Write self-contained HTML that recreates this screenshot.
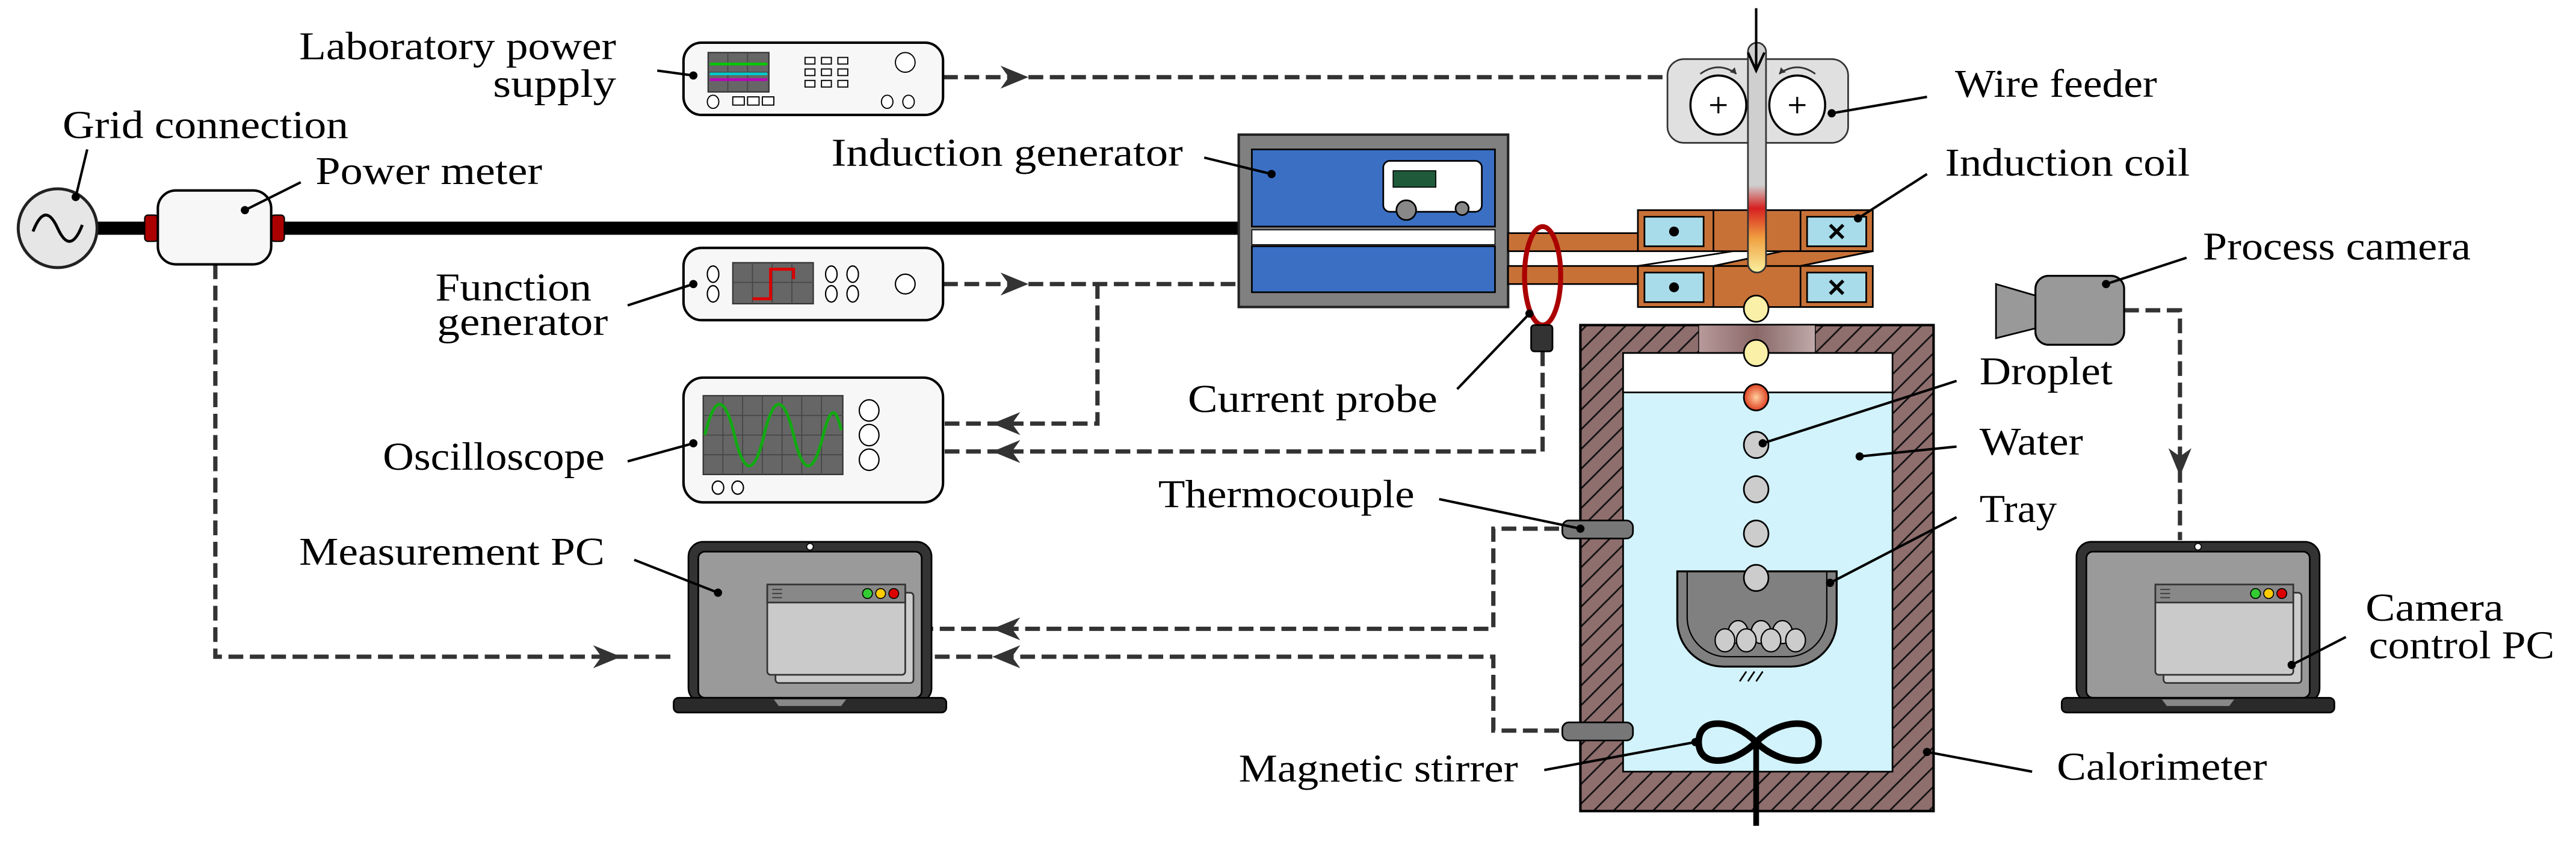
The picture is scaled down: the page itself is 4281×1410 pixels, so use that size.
<!DOCTYPE html>
<html><head><meta charset="utf-8"><style>
html,body{margin:0;padding:0;background:#fff;}
svg{display:block;}
svg text{font-family:"Liberation Serif","DejaVu Serif",serif;font-size:24px;fill:#000;}
</style></head><body>
<svg width="4281" height="1410" viewBox="0 0 1568 516.5" xmlns="http://www.w3.org/2000/svg">
<defs>
<pattern id="hatch" patternUnits="userSpaceOnUse" width="12" height="12">
<rect width="12" height="12" fill="#8f6e6e"/>
<path d="M-3,15 L15,-3 M-3,3 L3,-3 M9,15 L15,9" stroke="#111" stroke-width="1"/>
</pattern>
<linearGradient id="wire" x1="0" y1="0" x2="0" y2="1">
<stop offset="0" stop-color="#cfcfcf"/><stop offset="0.62" stop-color="#cfcfcf"/>
<stop offset="0.72" stop-color="#d62020"/><stop offset="0.85" stop-color="#f0a040"/><stop offset="1" stop-color="#fbf0a0"/>
</linearGradient>
<linearGradient id="opening" x1="0" y1="0" x2="1" y2="0">
<stop offset="0" stop-color="#b89a9a"/><stop offset="0.5" stop-color="#8a6868"/><stop offset="1" stop-color="#c0aaaa"/>
</linearGradient>
<radialGradient id="hot" cx="0.5" cy="0.5" r="0.5"><stop offset="0" stop-color="#ffd0a0"/><stop offset="1" stop-color="#e04020"/></radialGradient>
<path id="ah" d="M0,0 L-17,-7 L-12,0 L-17,7 Z" fill="#333"/>
<g id="laptop">
<rect x="419" y="330" width="148" height="98" rx="9" fill="#333" stroke="#000" stroke-width="1"/>
<rect x="425" y="336" width="136" height="89" rx="4" fill="#9a9a9a" stroke="#000" stroke-width="1"/>
<circle cx="493" cy="333" r="2" fill="#fff" stroke="#000" stroke-width="0.6"/>
<rect x="410" y="425" width="166" height="9" rx="3" fill="#2a2a2a" stroke="#000" stroke-width="1"/>
<path d="M471,426 L515,426 L512,430 L474,430 Z" fill="#888"/>
<rect x="472" y="361" width="84" height="55" rx="2" fill="#ccc" stroke="#333" stroke-width="1"/>
<rect x="467" y="356" width="84" height="55" rx="2" fill="#cacaca" stroke="#333" stroke-width="1"/>
<rect x="467" y="356" width="84" height="11" fill="#888" stroke="#333" stroke-width="1"/>
<path d="M470,359h6M470,361.5h6M470,364h6" stroke="#444" stroke-width="0.8"/>
<circle cx="528" cy="361.5" r="3" fill="#3c3" stroke="#000" stroke-width="0.6"/>
<circle cx="536" cy="361.5" r="3" fill="#fc0" stroke="#000" stroke-width="0.6"/>
<circle cx="544" cy="361.5" r="3" fill="#d00" stroke="#000" stroke-width="0.6"/>
</g>
</defs>

<g fill="none" stroke="#333" stroke-width="2.6" stroke-dasharray="9 4">
<path d="M131,161 V400 H412"/>
<path d="M574,47 H1016"/>
<path d="M574,173 H755"/>
<path d="M668,173 V258 H574"/>
<path d="M939,214 V275 H574"/>
<path d="M962,322 H909 V383 H567"/>
<path d="M962,445 H909 V400 H567"/>
<path d="M1293,189 H1327 V329"/>
</g>
<use href="#ah" transform="translate(378,400)"/>
<use href="#ah" transform="translate(626,47)"/>
<use href="#ah" transform="translate(626,173)"/>
<use href="#ah" transform="translate(604,258) rotate(180)"/>
<use href="#ah" transform="translate(604,275) rotate(180)"/>
<use href="#ah" transform="translate(604,383) rotate(180)"/>
<use href="#ah" transform="translate(604,400) rotate(180)"/>
<use href="#ah" transform="translate(1327,290) rotate(90)"/>

<rect x="58" y="135" width="698" height="8" fill="#000"/>
<ellipse cx="35" cy="139" rx="24" ry="24" fill="#e6e6e6" stroke="#222" stroke-width="1.8"/>
<path d="M20,141 C25,128 30,128 35,139 C40,150 45,150 50,137" fill="none" stroke="#000" stroke-width="1.8"/>
<rect x="88" y="131" width="8" height="16" rx="2" fill="#a00" stroke="#000" stroke-width="0.8"/>
<rect x="165" y="131" width="8" height="16" rx="2" fill="#a00" stroke="#000" stroke-width="0.8"/>
<rect x="96" y="116" width="69" height="45" rx="11" fill="#f7f7f7" stroke="#000" stroke-width="1.5"/>

<rect x="416" y="26" width="158" height="44" rx="11" fill="#f7f7f7" stroke="#000" stroke-width="1.5"/>
<rect x="431" y="32" width="37" height="24" fill="#666" stroke="#333" stroke-width="0.8"/>
<path d="M443,32v24M455,32v24M431,44h37" stroke="#444" stroke-width="0.6"/>
<path d="M432,39h35" stroke="#0c0" stroke-width="1.6"/>
<path d="M432,45h35" stroke="#0cc" stroke-width="1.6"/>
<path d="M432,48.5h35" stroke="#b0b" stroke-width="1.6"/>
<g fill="#fff" stroke="#000" stroke-width="0.7">
<rect x="490" y="35" width="6" height="4"/><rect x="500" y="35" width="6" height="4"/><rect x="510" y="35" width="6" height="4"/>
<rect x="490" y="42" width="6" height="4"/><rect x="500" y="42" width="6" height="4"/><rect x="510" y="42" width="6" height="4"/>
<rect x="490" y="49" width="6" height="4"/><rect x="500" y="49" width="6" height="4"/><rect x="510" y="49" width="6" height="4"/>
<rect x="446" y="59" width="7" height="5"/><rect x="455" y="59" width="7" height="5"/><rect x="464" y="59" width="7" height="5"/>
<ellipse cx="551" cy="38" rx="6" ry="6"/>
<ellipse cx="434" cy="62" rx="3.5" ry="4"/><ellipse cx="540" cy="62" rx="3.5" ry="4"/><ellipse cx="553" cy="62" rx="3.5" ry="4"/>
</g>

<rect x="416" y="151" width="158" height="44" rx="11" fill="#f7f7f7" stroke="#000" stroke-width="1.5"/>
<rect x="446" y="160" width="49" height="25" fill="#666" stroke="#333" stroke-width="0.8"/>
<path d="M458,160v25M470,160v25M482,160v25M446,172h49" stroke="#444" stroke-width="0.6"/>
<path d="M458,182 H469 V164 H483 V170" fill="none" stroke="#d00" stroke-width="1.8"/>
<g fill="#fff" stroke="#000" stroke-width="0.8">
<ellipse cx="434" cy="167" rx="3.5" ry="5"/><ellipse cx="434" cy="179" rx="3.5" ry="5"/>
<ellipse cx="506" cy="167" rx="3.5" ry="5"/><ellipse cx="519" cy="167" rx="3.5" ry="5"/>
<ellipse cx="506" cy="179" rx="3.5" ry="5"/><ellipse cx="519" cy="179" rx="3.5" ry="5"/>
<ellipse cx="551" cy="173" rx="6" ry="6"/>
</g>

<rect x="416" y="230" width="158" height="76" rx="12" fill="#f7f7f7" stroke="#000" stroke-width="1.5"/>
<rect x="428" y="241" width="85" height="48" fill="#666" stroke="#333" stroke-width="0.8"/>
<path d="M440,241v48M452,241v48M464,241v48M476,241v48M488,241v48M500,241v48M428,253h85M428,265h85M428,277h85" stroke="#444" stroke-width="0.6"/>
<path d="M429,265 C435,240 441,240 447,265 C453,290 459,290 465,265 C471,240 477,240 483,265 C489,290 495,290 501,265 C505,250 508,245 512,262" fill="none" stroke="#1a1" stroke-width="1.8"/>
<g fill="#fff" stroke="#000" stroke-width="0.8">
<ellipse cx="529" cy="250" rx="6" ry="6.5"/><ellipse cx="529" cy="265" rx="6" ry="6.5"/><ellipse cx="529" cy="280" rx="6" ry="6.5"/>
<ellipse cx="437" cy="297" rx="3.5" ry="4"/><ellipse cx="449" cy="297" rx="3.5" ry="4"/>
</g>

<use href="#laptop"/>
<use href="#laptop" transform="translate(845,0)"/>

<rect x="754" y="82" width="164" height="105" fill="#808080" stroke="#222" stroke-width="1.5"/>
<rect x="762" y="91" width="148" height="47" fill="#3a6fc4" stroke="#000" stroke-width="1"/>
<rect x="762" y="140" width="148" height="9" fill="#fff" stroke="#000" stroke-width="0.6"/>
<rect x="762" y="150" width="148" height="28" fill="#3a6fc4" stroke="#000" stroke-width="1"/>
<rect x="842" y="98" width="60" height="31" rx="4" fill="#fff" stroke="#000" stroke-width="1"/>
<rect x="848" y="104" width="26" height="10" fill="#1f5a3a" stroke="#000" stroke-width="0.6"/>
<circle cx="856" cy="128" r="6" fill="#888" stroke="#000" stroke-width="1"/>
<circle cx="890" cy="127" r="4" fill="#888" stroke="#000" stroke-width="1"/>

<rect x="918" y="142" width="80" height="11" fill="#c87137" stroke="#000" stroke-width="1"/>
<rect x="918" y="162" width="80" height="11" fill="#c87137" stroke="#000" stroke-width="1"/>
<ellipse cx="939" cy="168" rx="11" ry="30" fill="none" stroke="#a00" stroke-width="3"/>
<rect x="932" y="198" width="13" height="16" rx="2" fill="#333" stroke="#000" stroke-width="1"/>

<g stroke="#000" stroke-width="1">
<rect x="997" y="128" width="143" height="25" fill="#c87137"/>
<rect x="997" y="162" width="143" height="25" fill="#c87137"/>
<path d="M1043,162 L1085,153 L1096,153 L1140,153 L1140,153 L1096,162 Z" fill="#c87137"/>
<path d="M997,162 L1055,153 M1096,162 L1140,153" fill="none"/>
<path d="M1043,128v25M1096,128v25M1043,162v25M1096,162v25"/>
<rect x="1001" y="132" width="36" height="18" fill="#a9dcea"/>
<rect x="1100" y="132" width="36" height="18" fill="#a9dcea"/>
<rect x="1001" y="166" width="36" height="18" fill="#a9dcea"/>
<rect x="1100" y="166" width="36" height="18" fill="#a9dcea"/>
</g>
<circle cx="1019" cy="141" r="3" fill="#000"/><circle cx="1019" cy="175" r="3" fill="#000"/>
<path d="M1114,137l8,8M1122,137l-8,8M1114,171l8,8M1122,171l-8,8" stroke="#000" stroke-width="2"/>

<rect x="1015" y="36" width="110" height="51" rx="10" fill="#e0e0e0" stroke="#333" stroke-width="1"/>
<ellipse cx="1046" cy="64" rx="17" ry="18" fill="#fff" stroke="#000" stroke-width="1.3"/>
<ellipse cx="1094" cy="64" rx="17" ry="18" fill="#fff" stroke="#000" stroke-width="1.3"/>
<path d="M1041,64h10M1046,59v10M1089,64h10M1094,59v10" stroke="#000" stroke-width="1.2"/>
<path d="M1035,45 Q1046,37 1057,45 M1083,45 Q1094,37 1105,45" fill="none" stroke="#333" stroke-width="1"/>
<path d="M1057,45 l-4,-1 l3,-3Z M1083,45 l4,-1 l-3,-3Z" fill="#333"/>
<rect x="1064" y="26" width="11" height="140" rx="5.5" fill="url(#wire)" stroke="#333" stroke-width="1"/>
<path d="M1069,5 V42" stroke="#000" stroke-width="1.5"/>
<path d="M1064,32 L1069,43 L1074,32" fill="none" stroke="#000" stroke-width="1.5"/>

<rect x="962" y="198" width="215" height="296" fill="url(#hatch)" stroke="#000" stroke-width="1.5"/>
<rect x="1034" y="198" width="71" height="17" fill="url(#opening)" stroke="#000" stroke-width="0.5"/>
<rect x="988" y="215" width="164" height="255" fill="#d2f3fc" stroke="#000" stroke-width="1"/>
<rect x="988" y="215" width="164" height="24" fill="#fff" stroke="#000" stroke-width="1"/>
<rect x="951" y="317" width="43" height="11" rx="4" fill="#777" stroke="#000" stroke-width="1"/>
<rect x="951" y="440" width="43" height="11" rx="4" fill="#777" stroke="#000" stroke-width="1"/>
<path d="M1021,348 H1118 V378 A28,28 0 0 1 1090,406 H1049 A28,28 0 0 1 1021,378 Z" fill="#808080" stroke="#000" stroke-width="1.2"/>
<path d="M1027,348 V376 A24,24 0 0 0 1051,400 H1088 A24,24 0 0 0 1112,376 V348" fill="none" stroke="#000" stroke-width="0.8"/>
<g fill="#ccc" stroke="#000" stroke-width="0.8">
<ellipse cx="1058" cy="385" rx="6" ry="7"/><ellipse cx="1072" cy="385" rx="6" ry="7"/><ellipse cx="1085" cy="385" rx="6" ry="7"/>
<ellipse cx="1050" cy="390" rx="6" ry="7"/><ellipse cx="1063" cy="390" rx="6" ry="7"/><ellipse cx="1078" cy="390" rx="6" ry="7"/><ellipse cx="1093" cy="390" rx="6" ry="7"/>
</g>
<path d="M1059,415l4,-6M1064,415l4,-6M1069,415l4,-6" stroke="#000" stroke-width="1"/>
<g stroke="#000" stroke-width="1">
<ellipse cx="1069" cy="188" rx="7.5" ry="8" fill="#fbf0a8"/>
<ellipse cx="1069" cy="215" rx="7.5" ry="8" fill="#fbf0a8"/>
<ellipse cx="1069" cy="242" rx="7.5" ry="8" fill="url(#hot)"/>
<ellipse cx="1069" cy="271" rx="7.5" ry="8" fill="#ccc"/>
<ellipse cx="1069" cy="298" rx="7.5" ry="8" fill="#ccc"/>
<ellipse cx="1069" cy="325" rx="7.5" ry="8" fill="#ccc"/>
<ellipse cx="1069" cy="352" rx="7.5" ry="8" fill="#ccc"/>
</g>
<path d="M1069,452 C1055,438 1034,436 1034,452 C1034,468 1055,466 1069,452 C1083,438 1107,436 1107,452 C1107,468 1083,466 1069,452 Z" fill="none" stroke="#000" stroke-width="4"/>
<path d="M1069,452 V503" stroke="#000" stroke-width="3.5"/>

<path d="M1215,173 L1239,180 L1239,200 L1215,206 Z" fill="#999" stroke="#000" stroke-width="1"/>
<rect x="1239" y="168" width="54" height="42" rx="8" fill="#999" stroke="#000" stroke-width="1.2"/>

<g stroke="#000" stroke-width="1.5" fill="none">
<path d="M53,91 L46,120"/>
<path d="M183,111 L149,128"/>
<path d="M400,43 L422,46"/>
<path d="M382,186 L422,173"/>
<path d="M382,281 L422,270"/>
<path d="M386,341 L437,361"/>
<path d="M733,96 L774,106"/>
<path d="M887,237 L931,191"/>
<path d="M1173,59 L1115,69"/>
<path d="M1173,106 L1131,133"/>
<path d="M1331,157 L1282,173"/>
<path d="M1191,232 L1073,270"/>
<path d="M1191,272 L1132,278"/>
<path d="M1191,315 L1114,355"/>
<path d="M876,304 L962,322"/>
<path d="M940,469 L1032,452"/>
<path d="M1237,470 L1173,458"/>
<path d="M1428,388 L1395,405"/>
</g>
<g fill="#000">
<circle cx="46" cy="120" r="2.5"/><circle cx="149" cy="128" r="2.5"/><circle cx="422" cy="46" r="2.5"/>
<circle cx="422" cy="173" r="2.5"/><circle cx="422" cy="270" r="2.5"/><circle cx="437" cy="361" r="2.5"/>
<circle cx="774" cy="106" r="2.5"/><circle cx="931" cy="191" r="2.5"/><circle cx="1115" cy="69" r="2.5"/>
<circle cx="1131" cy="133" r="2.5"/><circle cx="1282" cy="173" r="2.5"/><circle cx="1073" cy="270" r="2.5"/>
<circle cx="1132" cy="278" r="2.5"/><circle cx="1114" cy="355" r="2.5"/><circle cx="962" cy="322" r="2.5"/>
<circle cx="1032" cy="452" r="2.5"/><circle cx="1173" cy="458" r="2.5"/><circle cx="1395" cy="405" r="2.5"/>
</g>

<g font-family="Liberation Serif, DejaVu Serif, serif" font-size="24" fill="#000">
<text x="38" y="84" textLength="174" lengthAdjust="spacingAndGlyphs">Grid connection</text>
<text x="182" y="36" textLength="193" lengthAdjust="spacingAndGlyphs">Laboratory power</text>
<text x="300" y="59" textLength="75" lengthAdjust="spacingAndGlyphs">supply</text>
<text x="192" y="112" textLength="138" lengthAdjust="spacingAndGlyphs">Power meter</text>
<text x="265" y="183" textLength="95" lengthAdjust="spacingAndGlyphs">Function</text>
<text x="266" y="204" textLength="104" lengthAdjust="spacingAndGlyphs">generator</text>
<text x="233" y="286" textLength="135" lengthAdjust="spacingAndGlyphs">Oscilloscope</text>
<text x="182" y="344" textLength="186" lengthAdjust="spacingAndGlyphs">Measurement PC</text>
<text x="506" y="101" textLength="214" lengthAdjust="spacingAndGlyphs">Induction generator</text>
<text x="723" y="251" textLength="152" lengthAdjust="spacingAndGlyphs">Current probe</text>
<text x="705" y="309" textLength="156" lengthAdjust="spacingAndGlyphs">Thermocouple</text>
<text x="754" y="476" textLength="170" lengthAdjust="spacingAndGlyphs">Magnetic stirrer</text>
<text x="1190" y="59" textLength="123" lengthAdjust="spacingAndGlyphs">Wire feeder</text>
<text x="1184" y="107" textLength="149" lengthAdjust="spacingAndGlyphs">Induction coil</text>
<text x="1341" y="158" textLength="163" lengthAdjust="spacingAndGlyphs">Process camera</text>
<text x="1205" y="234" textLength="81" lengthAdjust="spacingAndGlyphs">Droplet</text>
<text x="1205" y="277" textLength="63" lengthAdjust="spacingAndGlyphs">Water</text>
<text x="1205" y="318" textLength="47" lengthAdjust="spacingAndGlyphs">Tray</text>
<text x="1252" y="475" textLength="128" lengthAdjust="spacingAndGlyphs">Calorimeter</text>
<text x="1440" y="378" textLength="84" lengthAdjust="spacingAndGlyphs">Camera</text>
<text x="1442" y="401" textLength="113" lengthAdjust="spacingAndGlyphs">control PC</text>
</g>
</svg>
</body></html>
